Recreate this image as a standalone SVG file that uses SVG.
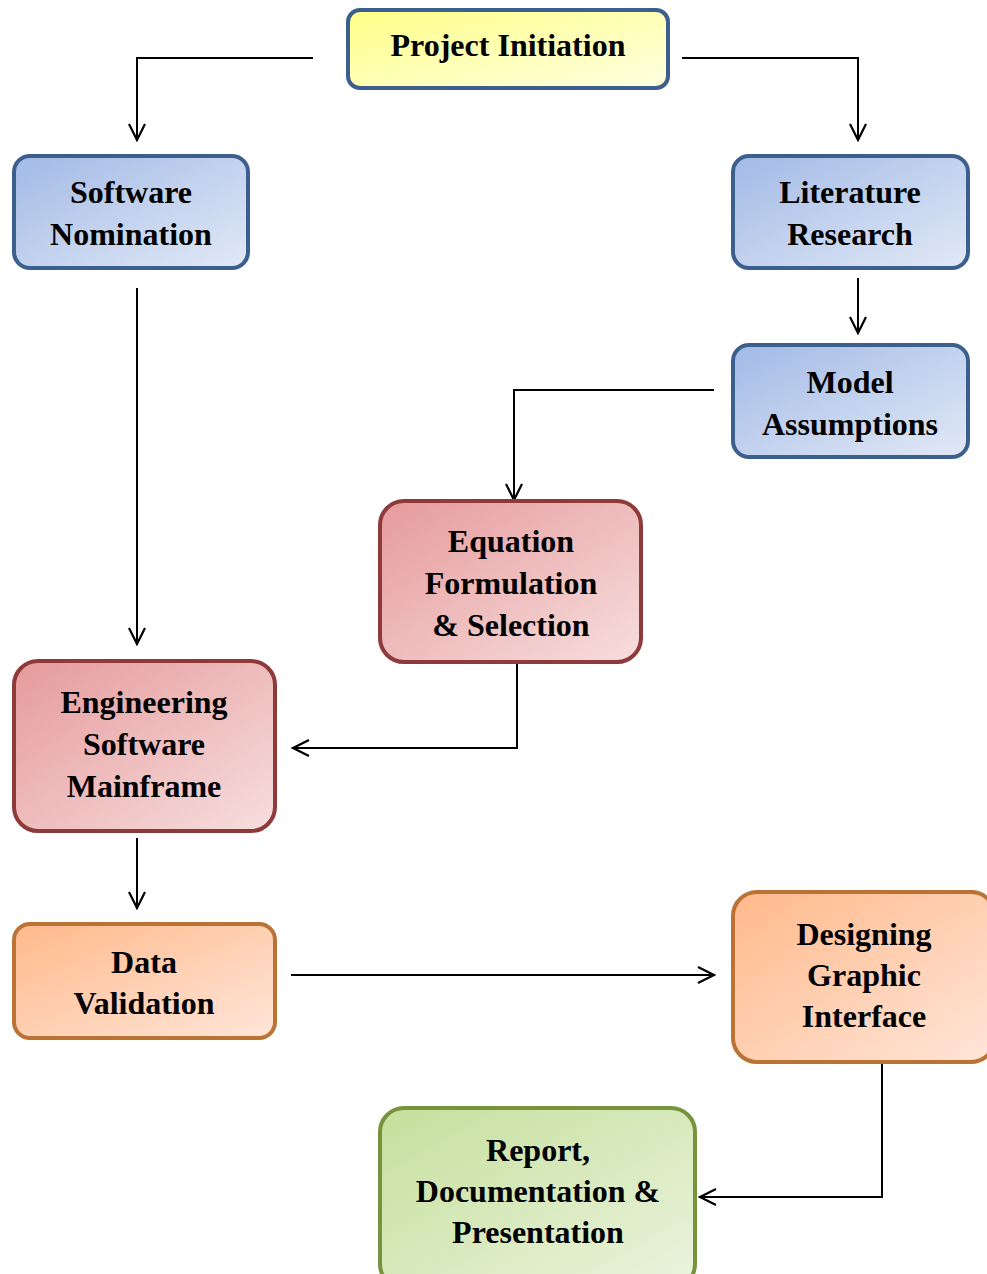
<svg xmlns="http://www.w3.org/2000/svg" width="987" height="1274" viewBox="0 0 987 1274">
<defs>
<linearGradient id="gY" x1="0" y1="0" x2="1" y2="1"><stop offset="0" stop-color="#FFFF88"/><stop offset="1" stop-color="#FFFFE2"/></linearGradient>
<linearGradient id="gB" x1="0" y1="0" x2="1" y2="1"><stop offset="0" stop-color="#A2BAE6"/><stop offset="1" stop-color="#E2E9F6"/></linearGradient>
<linearGradient id="gR" x1="0" y1="0" x2="1" y2="1"><stop offset="0" stop-color="#E69A9B"/><stop offset="1" stop-color="#F7DEDE"/></linearGradient>
<linearGradient id="gO" x1="0" y1="0" x2="1" y2="1"><stop offset="0" stop-color="#FFB98A"/><stop offset="1" stop-color="#FFE6DA"/></linearGradient>
<linearGradient id="gG" x1="0" y1="0" x2="1" y2="1"><stop offset="0" stop-color="#C5DF9C"/><stop offset="1" stop-color="#EBF4DE"/></linearGradient>
<marker id="arr" viewBox="0 0 20 20" refX="18" refY="10" markerWidth="20" markerHeight="20" markerUnits="userSpaceOnUse" orient="auto">
<path d="M2,2 L18,10 L2,18" fill="none" stroke="#000" stroke-width="2.2"/>
</marker>
<style>
.n{stroke-width:4}
.blue{stroke:#3D5F8E}
.red{stroke:#8E3A3A}
.org{stroke:#BA7235}
.grn{stroke:#77933C}
text{font-family:"Liberation Serif","Times New Roman",serif;font-weight:bold;font-size:32px;fill:#000;text-anchor:middle}
.c{fill:none;stroke:#000;stroke-width:2;marker-end:url(#arr)}
</style>
</defs>
<g id="connectors">
<path class="c" d="M313,58 H137 V140"/>
<path class="c" d="M682,58 H858 V140"/>
<path class="c" d="M137,288 V644"/>
<path class="c" d="M858,278 V333"/>
<path class="c" d="M714,390 H514 V500"/>
<path class="c" d="M517,662 V748 H293"/>
<path class="c" d="M137,838 V908"/>
<path class="c" d="M291,975 H714"/>
<path class="c" d="M882,1064 V1197 H700"/>
</g>
<g id="project-initiation">
<rect class="n blue" x="348" y="10" width="320" height="78" rx="12" fill="url(#gY)"/>
<text x="508" y="56">Project Initiation</text>
</g>
<g id="software-nomination">
<rect class="n blue" x="14" y="156" width="234" height="112" rx="16" fill="url(#gB)"/>
<text x="131" y="203">Software</text>
<text x="131" y="245">Nomination</text>
</g>
<g id="literature-research">
<rect class="n blue" x="733" y="156" width="235" height="112" rx="16" fill="url(#gB)"/>
<text x="850" y="203">Literature</text>
<text x="850" y="245">Research</text>
</g>
<g id="model-assumptions">
<rect class="n blue" x="733" y="345" width="235" height="112" rx="16" fill="url(#gB)"/>
<text x="850" y="393">Model</text>
<text x="850" y="435">Assumptions</text>
</g>
<g id="equation-formulation">
<rect class="n red" x="380" y="501" width="261" height="161" rx="24" fill="url(#gR)"/>
<text x="511" y="552">Equation</text>
<text x="511" y="594">Formulation</text>
<text x="511" y="636">&amp; Selection</text>
</g>
<g id="engineering-software-mainframe">
<rect class="n red" x="14" y="661" width="261" height="170" rx="24" fill="url(#gR)"/>
<text x="144" y="713">Engineering</text>
<text x="144" y="755">Software</text>
<text x="144" y="797">Mainframe</text>
</g>
<g id="data-validation">
<rect class="n org" x="14" y="924" width="261" height="114" rx="16" fill="url(#gO)"/>
<text x="144" y="973">Data</text>
<text x="144" y="1014">Validation</text>
</g>
<g id="designing-graphic-interface">
<rect class="n org" x="733" y="892" width="262" height="170" rx="24" fill="url(#gO)"/>
<text x="864" y="945">Designing</text>
<text x="864" y="986">Graphic</text>
<text x="864" y="1027">Interface</text>
</g>
<g id="report-documentation">
<rect class="n grn" x="380" y="1108" width="315" height="180" rx="24" fill="url(#gG)"/>
<text x="538" y="1161">Report,</text>
<text x="538" y="1202">Documentation &amp;</text>
<text x="538" y="1243">Presentation</text>
</g>
</svg>
